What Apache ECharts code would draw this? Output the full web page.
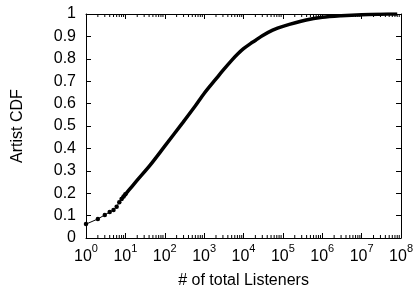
<!DOCTYPE html>
<html>
<head>
<meta charset="utf-8">
<script src="https://cdn.jsdelivr.net/npm/echarts@6/dist/echarts.min.js"></script>
<style>
html,body{margin:0;padding:0;background:#fff;}
#chart{width:416px;height:294px;}
</style>
</head>
<body>
<div id="chart"></div>
<script>
// Sparse low-count points (drawn with visible markers)
const listenersLow = [1, 2, 3, 4, 5, 6, 7, 8, 9, 10];
const cdfLow = [0.062, 0.085, 0.103, 0.116, 0.125, 0.140, 0.160, 0.174, 0.185, 0.195];
// Dense part of the CDF (drawn as a thick line of overlapping points)
const listeners = [8, 10, 15, 20, 42, 100, 290, 600, 1000, 2000, 3000, 5000, 7000, 10000, 15000, 20000, 30000, 55000, 100000, 390000, 1000000, 3000000, 10000000, 30000000, 80000000];
const cdf = [0.174, 0.195, 0.232, 0.258, 0.324, 0.410, 0.516, 0.590, 0.645, 0.710, 0.748, 0.793, 0.820, 0.845, 0.868, 0.882, 0.903, 0.928, 0.945, 0.973, 0.985, 0.992, 0.997, 0.999, 1.0];
// Axis ticks
const xDecades = [0, 1, 2, 3, 4, 5, 6, 7];
const minorMultipliers = [2, 3, 4, 5, 6, 7, 8, 9];
const yTicks = [0, 0.1, 0.2, 0.3, 0.4, 0.5, 0.6, 0.7, 0.8, 0.9, 1];

const minorTicks = [];
xDecades.forEach(d => minorMultipliers.forEach(m => minorTicks.push([m * Math.pow(10, d), 0])));

const FONT = '"Liberation Sans", Arial, sans-serif';
const chart = echarts.init(document.getElementById('chart'), null, {renderer: 'canvas'});

const option = {
  animation: false,
  backgroundColor: '#fff',
  grid: {left: 86, right: 14, top: 14, bottom: 54, containLabel: false},
  xAxis: [{
    type: 'log', logBase: 10, min: 1, max: 1e8, interval: 1,
    position: 'bottom',
    name: '# of total Listeners', nameLocation: 'middle', nameGap: 35,
    nameTextStyle: {fontFamily: FONT, fontSize: 16, color: '#000'},
    axisLine: {show: true, onZero: false, lineStyle: {color: '#000', width: 1}},
    axisTick: {show: true, inside: true, length: 5, lineStyle: {color: '#000'}},
    splitLine: {show: false},
    axisLabel: {
      margin: 5,
      fontFamily: FONT,
      color: '#000',
      formatter: function (v) {
        const n = Math.round(Math.log10(v));
        return '{b|10}{s|' + n + '}';
      },
      rich: {
        b: {fontFamily: FONT, fontSize: 16, color: '#000', lineHeight: 22, verticalAlign: 'bottom'},
        s: {fontFamily: FONT, fontSize: 11, color: '#000', lineHeight: 22, verticalAlign: 'top'}
      }
    }
  }, {
    type: 'log', logBase: 10, min: 1, max: 1e8, interval: 1,
    position: 'top',
    axisLine: {show: true, onZero: false, lineStyle: {color: '#000', width: 1}},
    axisTick: {show: true, inside: true, length: 5, lineStyle: {color: '#000'}},
    axisLabel: {show: false},
    splitLine: {show: false}
  }],
  yAxis: [{
    type: 'value', min: 0, max: 1, interval: 0.1,
    position: 'left',
    name: 'Artist CDF', nameLocation: 'middle', nameGap: 60, nameRotate: 90,
    nameTextStyle: {fontFamily: FONT, fontSize: 16, color: '#000'},
    axisLine: {show: true, onZero: false, lineStyle: {color: '#000', width: 1}},
    axisTick: {show: true, inside: true, length: 5, lineStyle: {color: '#000'}},
    splitLine: {show: false},
    axisLabel: {
      margin: 10, fontFamily: FONT, fontSize: 16, color: '#000',
      formatter: function (v) {
        const r = Math.round(v * 10) / 10;
        return (r === 0 || r === 1) ? String(r) : r.toFixed(1);
      }
    }
  }, {
    type: 'value', min: 0, max: 1, interval: 0.1,
    position: 'right',
    axisLine: {show: true, onZero: false, lineStyle: {color: '#000', width: 1}},
    axisTick: {show: true, inside: true, length: 5, lineStyle: {color: '#000'}},
    axisLabel: {show: false},
    splitLine: {show: false}
  }],
  series: [{
    type: 'custom',
    xAxisIndex: 0, yAxisIndex: 0,
    silent: true,
    clip: false,
    data: minorTicks,
    renderItem: function (params, api) {
      const pb = api.coord([api.value(0), 0]);
      const pt = api.coord([api.value(0), 1]);
      const st = {stroke: '#000', lineWidth: 1};
      return {
        type: 'group',
        children: [
          {type: 'line', shape: {x1: pb[0], y1: pb[1], x2: pb[0], y2: pb[1] - 3}, style: st},
          {type: 'line', shape: {x1: pt[0], y1: pt[1], x2: pt[0], y2: pt[1] + 3}, style: st}
        ]
      };
    }
  }, {
    type: 'line',
    data: listeners.map((x, i) => [x, cdf[i]]),
    showSymbol: false,
    symbol: 'none',
    smooth: 0.3,
    lineStyle: {color: '#000', width: 3.5},
    silent: true
  }, {
    type: 'line',
    data: listenersLow.map((x, i) => [x, cdfLow[i]]),
    symbol: 'circle',
    symbolSize: 4.5,
    showSymbol: true,
    itemStyle: {color: '#000'},
    lineStyle: {color: '#000', width: 1},
    silent: true
  }]
};
chart.setOption(option);
</script>
</body>
</html>
